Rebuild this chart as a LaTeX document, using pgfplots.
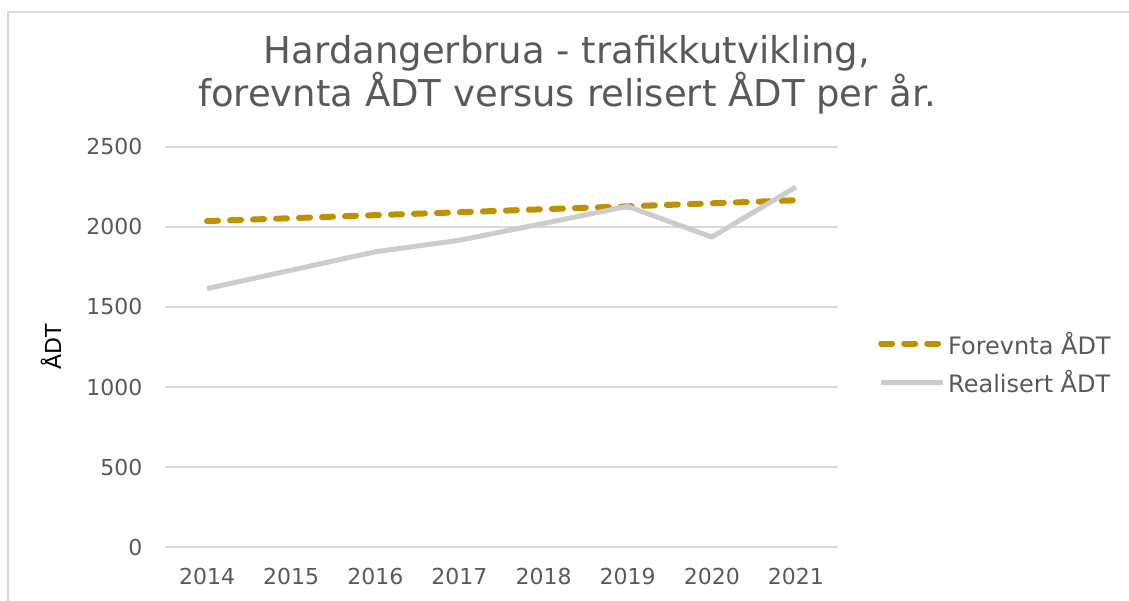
\documentclass[border=0pt]{standalone}
\usepackage{pgfplots}
\pgfplotsset{compat=1.18}
\usepackage{fontspec}
\setmainfont{DejaVu Sans}
\definecolor{gold}{RGB}{191,144,0}
\definecolor{lgray}{RGB}{204,204,204}
\definecolor{gridc}{RGB}{217,217,217}
\definecolor{txt}{RGB}{89,89,89}
\begin{document}
\begin{tikzpicture}[x=1bp,y=1bp]
\path[use as bounding box] (0,0) rectangle (1129,601);
\draw[gridc, line width=1.5bp] (8,0) -- (8,589) -- (1129,589);
\node[align=center, text=txt, font=\fontsize{37bp}{40bp}\selectfont] at (567,526) {Hardangerbrua - trafikkutvikling,\\forevnta ÅDT versus relisert ÅDT per år.};
\node[rotate=90, font=\fontsize{22bp}{24bp}\selectfont, text=black] at (51,254) {ÅDT};
\begin{axis}[at={(165bp,54bp)}, anchor=south west, scale only axis,
  width=673bp, height=400bp,
  xmin=-0.5, xmax=7.5, ymin=0, ymax=2500,
  ytick={0,500,1000,1500,2000,2500},
  xtick={0,1,2,3,4,5,6,7},
  xticklabels={2014,2015,2016,2017,2018,2019,2020,2021},
  axis line style={draw=none}, major tick style={draw=none},
  ymajorgrids, grid style={gridc, line width=1.5bp},
  ticklabel style={font=\fontsize{22bp}{24bp}\selectfont, text=txt},
  /pgf/number format/assume math mode=true,
  /pgf/number format/1000 sep={},
  yticklabel style={xshift=-19bp},
  xticklabel style={yshift=-18bp},
  legend style={at={(1,0.46)}, anchor=west, xshift=37bp, draw=none, fill=none,
    font=\fontsize{24bp}{26bp}\selectfont, text=txt, row sep=11bp},
  legend cell align=left,
  legend image code/.code={\draw[#1] (0bp,0bp) -- (62bp,0bp);},
]
\addplot[gold, line width=6bp, line cap=round, dash pattern=on 11bp off 12bp] coordinates {
(0,2037) (1,2055) (2,2074) (3,2092) (4,2111) (5,2129) (6,2148) (7,2167)};
\addlegendentry{Forevnta ÅDT}
\addplot[lgray, line width=5bp, line join=round] coordinates {
(0,1615) (1,1730) (2,1845) (3,1917) (4,2022) (5,2129) (6,1937) (7,2250)};
\addlegendentry{Realisert ÅDT}
\end{axis}
\end{tikzpicture}
\end{document}
